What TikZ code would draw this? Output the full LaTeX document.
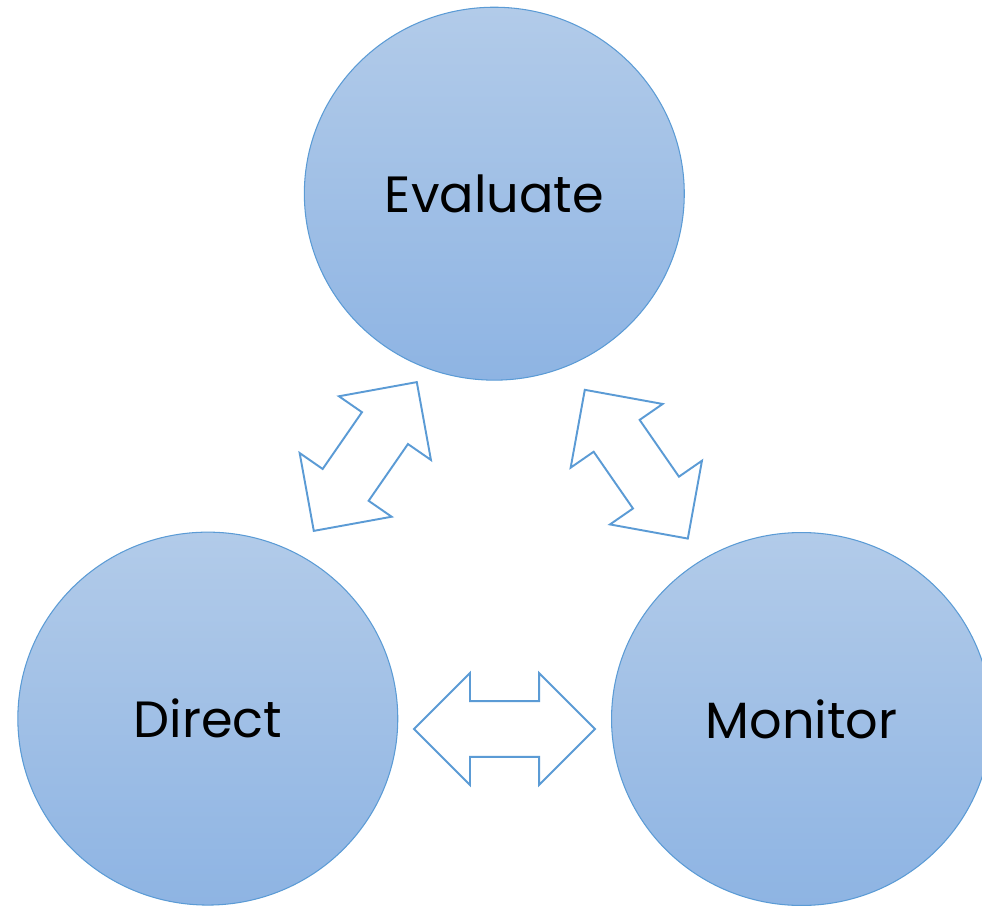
\documentclass[tikz,border=0pt]{standalone}
\usepackage{fontspec}
\setmainfont{Poppins}
\usetikzlibrary{shapes,arrows}

\definecolor{ringtop}{HTML}{B2CBE9}
\definecolor{ringbot}{HTML}{8EB4E3}
\definecolor{ringline}{HTML}{5B9BD5}

\begin{document}
\begin{tikzpicture}[x=0.02cm, y=0.02cm]
        % Define block styles
        \tikzstyle{phase} = [ellipse, draw=ringline, line width=0.6pt, top color=ringtop,
            bottom color=ringbot, minimum width=7.6cm, minimum height=7.46cm,
            font=\fontsize{29}{35}\selectfont]
        \tikzstyle{link} = [double arrow, draw=ringline, fill=white, line width=1.1pt,
            inner xsep=0pt, inner ysep=0.54cm, outer sep=0pt, minimum height=3.62cm,
            double arrow head extend=0.56cm]

        \useasboundingbox (0,0) rectangle (982,906);

        % Nodes
        \node [phase] (evaluate) at (494.3,712.3) {Evaluate};
        \node [phase] (direct) at (207.8,187.4) {Direct};
        \node [phase] (monitor) at (801.5,187) {Monitor};

        % Arrows
        \node [link, rotate=55.3] (evaldirect) at (365.3,449.5) {};
        \node [link, rotate=-55.3] (evalmonitor) at (636.3,441.8) {};
        \node [link] (directmonitor) at (504.5,177) {};
    \end{tikzpicture}
\end{document}
